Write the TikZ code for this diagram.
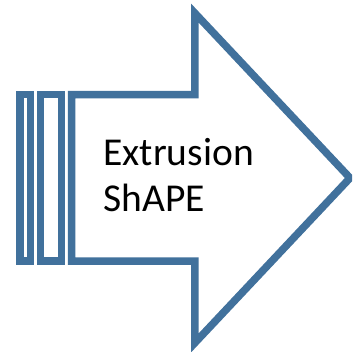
\documentclass[tikz,border=0pt]{standalone}
\usepackage{fontspec}
\setmainfont{Carlito}
\definecolor{arrowblue}{RGB}{65,113,156}
\begin{document}
\begin{tikzpicture}[x=1pt,y=1pt,
  outline/.style={draw=arrowblue,line width=7.5pt,line join=miter,fill=white},
  label/.style={inner sep=0pt,align=left,font=\fontsize{39.5}{46}\selectfont,text=black}]
\useasboundingbox (0,0) rectangle (352,352);
\clip (0,0) rectangle (352,352);
\fill[white] (0,0) rectangle (352,352);
\draw[outline] (19.75,90.75) rectangle (30.25,257.25);
\draw[outline] (40.5,90.75) rectangle (61.25,257.25);
\draw[outline] (71.5,90.75) -- (194.75,90.75) -- (194.75,9) -- (350,174)
  -- (194.75,339) -- (194.75,257.25) -- (71.5,257.25) -- cycle;
\node[label,anchor=base west] (txt) at (103.3,140.3) {Extrusion\\ShAPE};
\end{tikzpicture}
\end{document}
